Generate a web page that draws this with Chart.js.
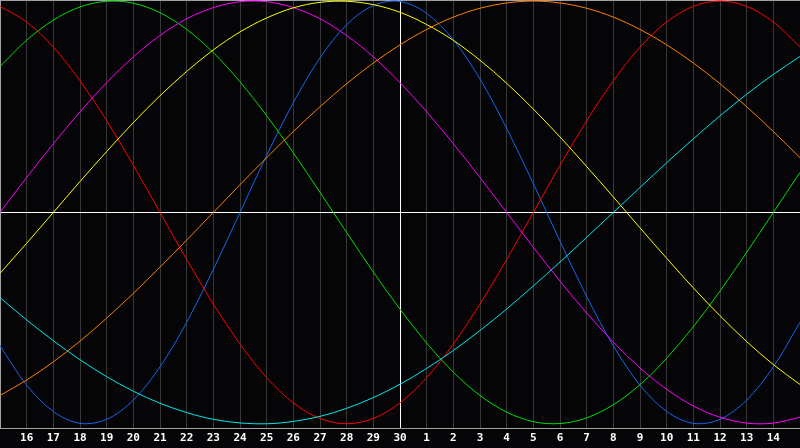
<!DOCTYPE html>
<html>
<head>
<meta charset="utf-8">
<script src="https://cdn.jsdelivr.net/npm/chart.js@4"></script>
<style>
  html, body { margin: 0; padding: 0; background: #050508; }
  #wrap { width: 800px; height: 448px; }
</style>
</head>
<body>
<div id="wrap"><canvas id="c" width="800" height="448"></canvas></div>
<script>
const days = ['15','16','17','18','19','20','21','22','23','24','25','26','27','28','29','30',
              '1','2','3','4','5','6','7','8','9','10','11','12','13','14','15'];

const blue23 = [-63.1,-81.7,-94.2,-99.8,-97.9,-88.8,-73.1,-52.0,-27.0,0,27.0,52.0,73.1,88.8,97.9,99.8,94.2,81.7,63.1,39.8,13.6,-13.6,-39.8,-63.1,-81.7,-94.2,-99.8,-97.9,-88.8,-73.1,-52.0];
const red28 = [97.5,90.1,78.2,62.3,43.4,22.3,0,-22.3,-43.4,-62.3,-78.2,-90.1,-97.5,-100,-97.5,-90.1,-78.2,-62.3,-43.4,-22.3,0,22.3,43.4,62.3,78.2,90.1,97.5,100,97.5,90.1,78.2];
const green33 = [69.0,81.5,91.0,97.2,99.9,99.0,94.5,86.6,75.6,61.8,45.8,28.2,9.5,-9.5,-28.2,-45.8,-61.8,-75.6,-86.6,-94.5,-99.0,-99.9,-97.2,-91.0,-81.5,-69.0,-54.1,-37.2,-18.9,0,18.9];
const magenta38 = [0,16.5,32.5,47.6,61.4,73.6,83.7,91.6,96.9,99.7,99.7,96.9,91.6,83.7,73.6,61.4,47.6,32.5,16.5,0,-16.5,-32.5,-47.6,-61.4,-73.6,-83.7,-91.6,-96.9,-99.7,-99.7,-96.9];
const yellow43 = [-28.8,-14.6,0,14.6,28.8,42.5,55.2,66.7,76.9,85.4,92.0,96.8,99.4,99.9,98.3,94.7,88.9,81.4,72.0,61.1,48.9,35.7,21.7,7.3,-7.3,-21.7,-35.7,-48.9,-61.1,-72.0,-81.4];
const orange48 = [-86.6,-79.3,-70.7,-60.9,-50.0,-38.3,-25.9,-13.1,0,13.1,25.9,38.3,50.0,60.9,70.7,79.3,86.6,92.4,96.6,99.1,100,99.1,96.6,92.4,86.6,79.3,70.7,60.9,50.0,38.3,25.9];
const cyan53 = [-40.3,-50.9,-60.7,-69.7,-77.7,-84.6,-90.3,-94.7,-97.9,-99.6,-100.0,-98.9,-96.5,-92.7,-87.6,-81.3,-73.8,-65.3,-55.9,-45.7,-34.8,-23.5,-11.8,0,11.8,23.5,34.8,45.7,55.9,65.3,73.8];

const todayIndex = 15;

function ds(data, color) {
  return {
    data: data,
    borderColor: color,
    borderWidth: 1,
    pointRadius: 0,
    pointHoverRadius: 0,
    fill: false,
    tension: 0.33
  };
}

const framePlugin = {
  id: 'frame',
  beforeDatasetsDraw(chart) {
    const ctx = chart.ctx, a = chart.chartArea;
    const y0 = Math.round(chart.scales.y.getPixelForValue(0)) + 0.5;
    ctx.save();
    ctx.lineWidth = 1;
    ctx.strokeStyle = '#ffffff';
    ctx.beginPath();
    ctx.moveTo(a.left, y0);
    ctx.lineTo(a.right, y0);
    ctx.stroke();
    ctx.strokeStyle = '#a0a0a0';
    ctx.beginPath();
    ctx.moveTo(a.left, a.top + 0.5);
    ctx.lineTo(a.right, a.top + 0.5);
    ctx.moveTo(a.left + 0.5, a.top);
    ctx.lineTo(a.left + 0.5, a.bottom);
    ctx.stroke();
    ctx.restore();
  }
};

new Chart(document.getElementById('c'), {
  type: 'line',
  data: {
    labels: days,
    datasets: [
      ds(cyan53, '#00e8e8'),
      ds(orange48, '#ff8000'),
      ds(yellow43, '#ffff00'),
      ds(magenta38, '#ff00ff'),
      ds(green33, '#00e000'),
      ds(red28, '#ff0000'),
      ds(blue23, '#1466f0')
    ]
  },
  options: {
    responsive: false,
    animation: false,
    events: [],
    layout: { padding: 0 },
    plugins: { legend: { display: false }, tooltip: { enabled: false } },
    scales: {
      x: {
        offset: false,
        afterFit: function(s) { s.paddingLeft = 0; s.paddingRight = 0; s.height = 20; },
        border: { display: true, color: '#a0a0a0', width: 1 },
        grid: {
          drawTicks: false,
          lineWidth: 1,
          color: (c) => c.index === 0 ? '#a0a0a0' : (c.index === todayIndex ? '#ffffff' : '#383838')
        },
        ticks: {
          autoSkip: false,
          maxRotation: 0,
          minRotation: 0,
          padding: 4,
          color: '#ffffff',
          font: { family: 'DejaVu Sans Mono', size: 11, weight: 'bold' },
          callback: function(v, i) { return (i === 0 || i === days.length - 1) ? '' : days[i]; }
        }
      },
      y: {
        display: false,
        min: -102,
        max: 100.5
      }
    }
  },
  plugins: [framePlugin]
});
</script>
</body>
</html>
